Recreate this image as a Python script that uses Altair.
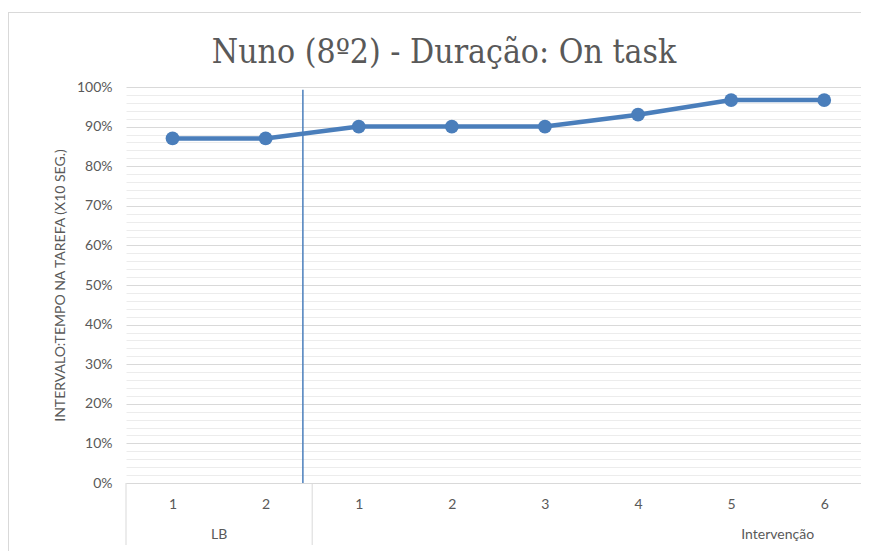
import altair as alt
import pandas as pd

# ---- data ----
phases = ["LB", "LB", "Intervenção", "Intervenção", "Intervenção", "Intervenção", "Intervenção", "Intervenção"]
sessions = ["1", "2", "1", "2", "3", "4", "5", "6"]
values = [87, 87, 90, 90, 90, 93, 96.7, 96.7]

group_labels = ["LB", "Intervenção"]
group_label_pos = [0.5, 6.5]
group_separators = [-0.5, 1.5]
phase_line_x = 1.4
phase_line_top = 99.3
x_domain = [-0.5, 7.395]   # the reference's plot area runs past the right edge of the picture

title_text = "Nuno (8º2) - Duração: On task"
y_title = "INTERVALO:TEMPO NA TAREFA (X10 SEG.)"

BLUE = "#4a7ebb"
GRAY_TXT = "#595959"
FONT = "Lato"

df = pd.DataFrame({
    "idx": list(range(len(values))),
    "phase": phases,
    "session": sessions,
    "value": values,
})

label_array = "[" + ",".join("'" + s + "'" for s in sessions) + "]"

x_enc = alt.X(
    "idx:Q",
    scale=alt.Scale(domain=x_domain, nice=False, zero=False),
    axis=alt.Axis(
        values=list(range(len(values))),
        tickCount=100,
        labelExpr=label_array + "[datum.value]",
        grid=False, ticks=False, domain=True, domainColor="#d9d9d9",
        labelPadding=14, labelFontSize=14, labelColor=GRAY_TXT, labelFont=FONT,
        title=None,
    ),
)
y_enc = alt.Y(
    "value:Q",
    scale=alt.Scale(domain=[0, 100], nice=False),
    axis=alt.Axis(
        values=list(range(0, 101, 2)),
        tickCount=200,
        labelExpr="datum.value % 10 === 0 ? datum.value + '%' : ''",
        labelOverlap=False,
        grid=True,
        gridColor={"condition": {"test": "datum.value % 10 === 0", "value": "#d9d9d9"}, "value": "#ececec"},
        gridWidth=1,
        ticks=False, domain=False,
        labelPadding=14, labelFontSize=14, labelColor=GRAY_TXT, labelFont=FONT,
        title=y_title, titleFontSize=14, titleFont=FONT, titleColor=GRAY_TXT,
        titleFontWeight="normal", titleX=-66, titleY=198, titleAngle=-90,
        titleAlign="center", titleBaseline="middle",
    ),
)

base = alt.Chart(df)
line = base.mark_line(color=BLUE, strokeWidth=4.5).encode(x=x_enc, y=y_enc)
points = base.mark_circle(color=BLUE, size=190, opacity=1).encode(x="idx:Q", y="value:Q")

phase_df = pd.DataFrame({"x": [phase_line_x], "y": [0], "y2": [phase_line_top]})
phase_rule = alt.Chart(phase_df).mark_rule(color=BLUE, strokeWidth=1.5).encode(
    x="x:Q", y="y:Q", y2="y2:Q"
)

sep_df = pd.DataFrame({"x": group_separators})
separators = alt.Chart(sep_df).mark_rule(color="#d9d9d9", strokeWidth=1).encode(
    x="x:Q", y=alt.value(396), y2=alt.value(458)
)

grp_df = pd.DataFrame({"x": group_label_pos, "label": group_labels})
group_text = alt.Chart(grp_df).mark_text(
    fontSize=14, color=GRAY_TXT, font=FONT, baseline="middle", align="center"
).encode(x="x:Q", y=alt.value(448), text="label:N")

title_df = pd.DataFrame({"t": [title_text]})
title = alt.Chart(title_df).mark_text(
    fontSize=33.5, color=GRAY_TXT, font="DejaVu Serif Condensed", baseline="alphabetic", align="center"
).encode(x=alt.value(318), y=alt.value(-24), text="t:N")

border_left = alt.Chart(title_df).mark_rule(color="#d9d9d9").encode(
    x=alt.value(-117.5), y=alt.value(-75), y2=alt.value(468)
)
border_top = alt.Chart(title_df).mark_rule(color="#d9d9d9").encode(
    x=alt.value(-117.5), x2=alt.value(735), y=alt.value(-74.5)
)

chart = alt.layer(
    border_left, border_top, separators, phase_rule, line, points, group_text, title
).properties(
    width=735, height=396,
    autosize=alt.AutoSizeParams(type="none"),
    padding={"left": 118, "top": 79, "right": 0, "bottom": 68},
    background="white",
).configure_view(stroke=None)

chart.save("out.html", embed_options={"renderer": "svg", "actions": False})
